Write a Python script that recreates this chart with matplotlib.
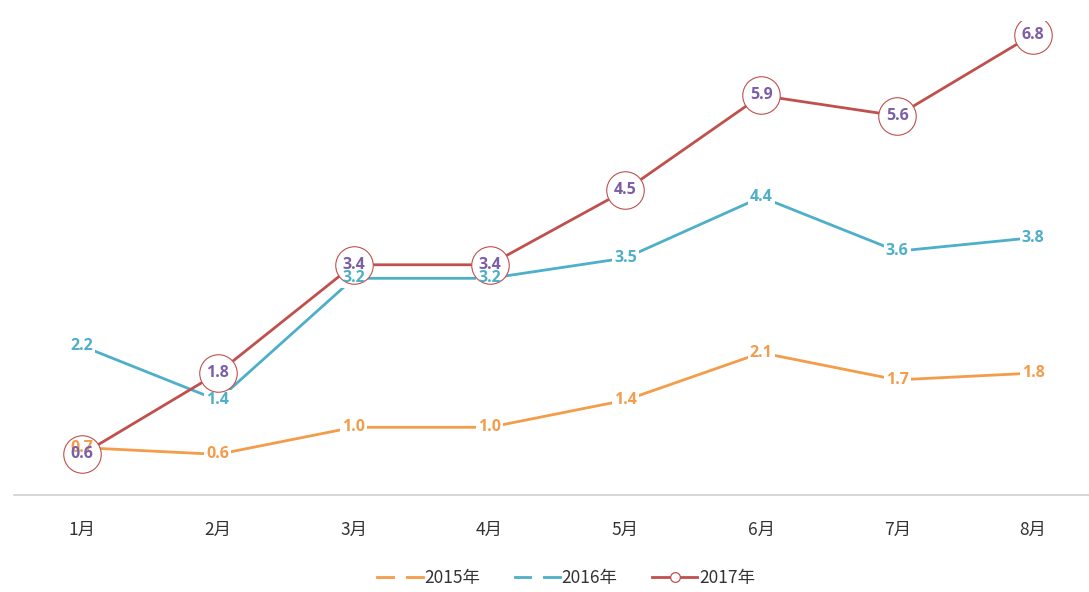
import matplotlib
matplotlib.use("Agg")
from matplotlib import pyplot as plt
from matplotlib.lines import Line2D

plt.rcParams['font.family'] = ['Noto Sans CJK SC', 'DejaVu Sans']

# 数据
months = ['1月', '2月', '3月', '4月', '5月', '6月', '7月', '8月']
y2015 = [0.7, 0.6, 1.0, 1.0, 1.4, 2.1, 1.7, 1.8]
y2016 = [2.2, 1.4, 3.2, 3.2, 3.5, 4.4, 3.6, 3.8]
y2017 = [0.6, 1.8, 3.4, 3.4, 4.5, 5.9, 5.6, 6.8]

c2015 = '#f39c4a'
c2016 = '#4eafc8'
c2017 = '#c0504d'
c_lab17 = '#7b5ea7'
num_font = ['Open Sans', 'DejaVu Sans']

fig = plt.figure(figsize=(10.89, 5.92), dpi=100)
ax = fig.add_axes([14 / 1089, 97 / 592, 1087 / 1089, 474 / 592])
x = list(range(len(months)))

ax.plot(x, y2015, color=c2015, lw=2, zorder=2)
ax.plot(x, y2016, color=c2016, lw=2, zorder=2)
ax.plot(x, y2017, color=c2017, lw=2, zorder=3,
        marker='o', markersize=27, markerfacecolor='white',
        markeredgecolor=c2017, markeredgewidth=0.8)

# 2015/2016 标签: 白底遮住折线, 文字再画在圆圈上面
for ys, c in [(y2015, c2015), (y2016, c2016)]:
    for xi, v in zip(x, ys):
        ax.text(xi, v, f'{v:.1f}', color='white', fontsize=11.5, fontweight='bold',
                family=num_font, ha='center', va='center', zorder=2.5,
                bbox=dict(facecolor='white', edgecolor='none', pad=1.5))
        ax.text(xi, v, f'{v:.1f}', color=c, fontsize=11.5, fontweight='bold',
                family=num_font, ha='center', va='center', zorder=3.5)
for xi, v in zip(x, y2017):
    ax.text(xi, v, f'{v:.1f}', color=c_lab17, fontsize=11.5, fontweight='bold',
            family=num_font, ha='center', va='center', zorder=4)

ax.set_xlim(-0.5, len(months) - 0.5)
ax.set_ylim(0, 7)
ax.set_yticks([])
ax.set_xticks(x)
ax.set_xticklabels(months, fontsize=12.5, color='#333333')
ax.tick_params(axis='x', length=0, pad=19)
for s in ['top', 'right', 'left']:
    ax.spines[s].set_visible(False)
ax.spines['bottom'].set_color('#d0d0d0')
ax.spines['bottom'].set_linewidth(1.2)

handles = [
    Line2D([], [], color=c2015, lw=2, marker='o', markersize=7,
           markerfacecolor='white', markeredgecolor='white'),
    Line2D([], [], color=c2016, lw=2, marker='o', markersize=7,
           markerfacecolor='white', markeredgecolor='white'),
    Line2D([], [], color=c2017, lw=2, marker='o', markersize=7,
           markerfacecolor='white', markeredgecolor=c2017, markeredgewidth=0.9),
]
fig.legend(handles, ['2015年', '2016年', '2017年'], loc='center',
           bbox_to_anchor=(0.52, 1 - 578 / 592), ncol=3, frameon=False,
           fontsize=12.5, handlelength=2.6, handletextpad=0.1, columnspacing=2.0,
           labelcolor='#333333')

fig.savefig('out.png', dpi=100)
